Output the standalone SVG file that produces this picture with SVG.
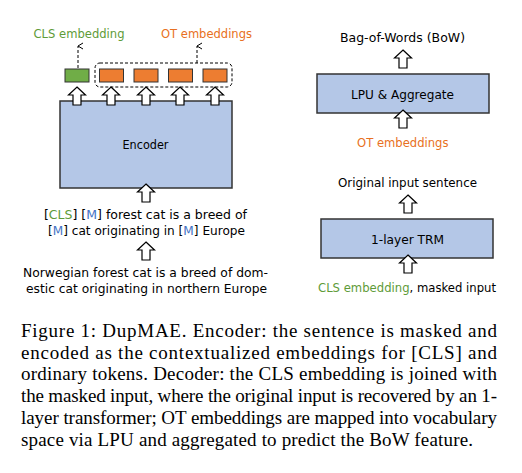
<svg xmlns="http://www.w3.org/2000/svg" width="522" height="473" viewBox="0 0 522 473">
<style>
.t{font-family:"DejaVu Sans","Liberation Sans",sans-serif;font-size:12.5px;fill:#000}
.s{font-size:12px}
.g{fill:#5E9B38}
.o{fill:#E87022}
.b{fill:#4472C4}
.box{fill:#B4C7E7;stroke:#333;stroke-width:1.5}
.cap{font-family:"Liberation Serif","Times New Roman",serif;font-size:19px;fill:#000}
.ha{fill:#fff;stroke:#000;stroke-width:1.2;stroke-linejoin:miter}
.dl{fill:none;stroke:#000;stroke-width:1;stroke-dasharray:3,2}
</style>
<defs>
<path id="ha" class="ha" d="M0,0 L8.5,8 L4,8 L4,18 L-4,18 L-4,8 L-8.5,8 Z"/>
<marker id="ch" markerWidth="8" markerHeight="8" refX="4" refY="1" orient="auto" markerUnits="userSpaceOnUse" viewBox="0 0 8 8">
<path d="M1,6 L4,1 L7,6" fill="none" stroke="#000" stroke-width="1"/>
</marker>
</defs>
<rect width="522" height="473" fill="#fff"/>

<g id="encoder">
<rect class="box" x="60" y="101" width="172" height="87"/>
<text class="t" x="145.5" y="149" text-anchor="middle" font-size="13.5" textLength="46" lengthAdjust="spacingAndGlyphs">Encoder</text>
</g>

<g id="embeddings">
<rect x="95" y="63" width="137" height="24" rx="5" class="dl"/>
<rect x="65" y="69" width="24" height="13" fill="#70AD47" stroke="#333" stroke-width="1"/>
<rect x="99.5" y="69" width="24" height="13" fill="#ED7D31" stroke="#333" stroke-width="1"/>
<rect x="134" y="69" width="24" height="13" fill="#ED7D31" stroke="#333" stroke-width="1"/>
<rect x="168.5" y="69" width="24" height="13" fill="#ED7D31" stroke="#333" stroke-width="1"/>
<rect x="203" y="69" width="24" height="13" fill="#ED7D31" stroke="#333" stroke-width="1"/>
</g>

<g id="labels-top">
<text class="t g" x="79" y="38" text-anchor="middle" textLength="91" lengthAdjust="spacingAndGlyphs">CLS embedding</text>
<text class="t o" x="206.5" y="38" text-anchor="middle" textLength="91" lengthAdjust="spacingAndGlyphs">OT embeddings</text>
</g>

<g id="masked-input">
<text class="t s" x="44" y="218.5" textLength="203" lengthAdjust="spacingAndGlyphs">[<tspan class="g">CLS</tspan>] [<tspan class="b">M</tspan>] forest cat is a breed of</text>
<text class="t s" x="48" y="234.5" textLength="197" lengthAdjust="spacingAndGlyphs">[<tspan class="b">M</tspan>] cat originating in [<tspan class="b">M</tspan>] Europe</text>
</g>

<g id="original-input">
<text class="t s" x="23" y="277" textLength="245" lengthAdjust="spacingAndGlyphs">Norwegian forest cat is a breed of dom-</text>
<text class="t s" x="26" y="292.5" textLength="241" lengthAdjust="spacingAndGlyphs">estic cat originating in northern Europe</text>
</g>

<g id="bow">
<text class="t" x="340" y="42" textLength="125" lengthAdjust="spacingAndGlyphs">Bag-of-Words (BoW)</text>
</g>

<g id="lpu">
<rect class="box" x="317" y="74" width="172" height="39"/>
<text class="t" x="351" y="99" textLength="103" lengthAdjust="spacingAndGlyphs">LPU &amp; Aggregate</text>
</g>

<g id="ot-right">
<text class="t o" x="357" y="147" textLength="91.5" lengthAdjust="spacingAndGlyphs">OT embeddings</text>
</g>

<g id="orig-sentence">
<text class="t" x="338" y="187" textLength="139" lengthAdjust="spacingAndGlyphs">Original input sentence</text>
</g>

<g id="trm">
<rect class="box" x="321" y="219" width="172" height="39"/>
<text class="t" x="371" y="244" textLength="73" lengthAdjust="spacingAndGlyphs">1-layer TRM</text>
</g>

<g id="decoder-input">
<text class="t" x="318" y="291.5" textLength="178" lengthAdjust="spacingAndGlyphs"><tspan class="g">CLS embedding</tspan>, masked input</text>
</g>

<g id="connectors">
<line x1="78" y1="68" x2="78" y2="46" class="dl" marker-end="url(#ch)"/>
<line x1="197" y1="63" x2="197" y2="46" class="dl" marker-end="url(#ch)"/>
<use href="#ha" x="77" y="87"/>
<use href="#ha" x="111" y="87"/>
<use href="#ha" x="146" y="87"/>
<use href="#ha" x="180" y="87"/>
<use href="#ha" x="215" y="87"/>
<use href="#ha" x="146" y="184"/>
<use href="#ha" x="146" y="242"/>
<use href="#ha" x="403" y="50"/>
<use href="#ha" x="403" y="110"/>
<use href="#ha" x="408" y="195"/>
<use href="#ha" x="408" y="255"/>
</g>

<g id="caption">
<text class="cap" x="21" y="337" textLength="476" lengthAdjust="spacing">Figure 1: DupMAE. Encoder: the sentence is masked and</text>
<text class="cap" x="21" y="358.7" textLength="476" lengthAdjust="spacing">encoded as the contextualized embeddings for [CLS] and</text>
<text class="cap" x="21" y="380.4" textLength="476" lengthAdjust="spacing">ordinary tokens. Decoder: the CLS embedding is joined with</text>
<text class="cap" x="21" y="402.1" textLength="476" lengthAdjust="spacing">the masked input, where the original input is recovered by an 1-</text>
<text class="cap" x="21" y="423.8" textLength="476" lengthAdjust="spacing">layer transformer; OT embeddings are mapped into vocabulary</text>
<text class="cap" x="21" y="445.5" textLength="452" lengthAdjust="spacing">space via LPU and aggregated to predict the BoW feature.</text>
</g>
</svg>
